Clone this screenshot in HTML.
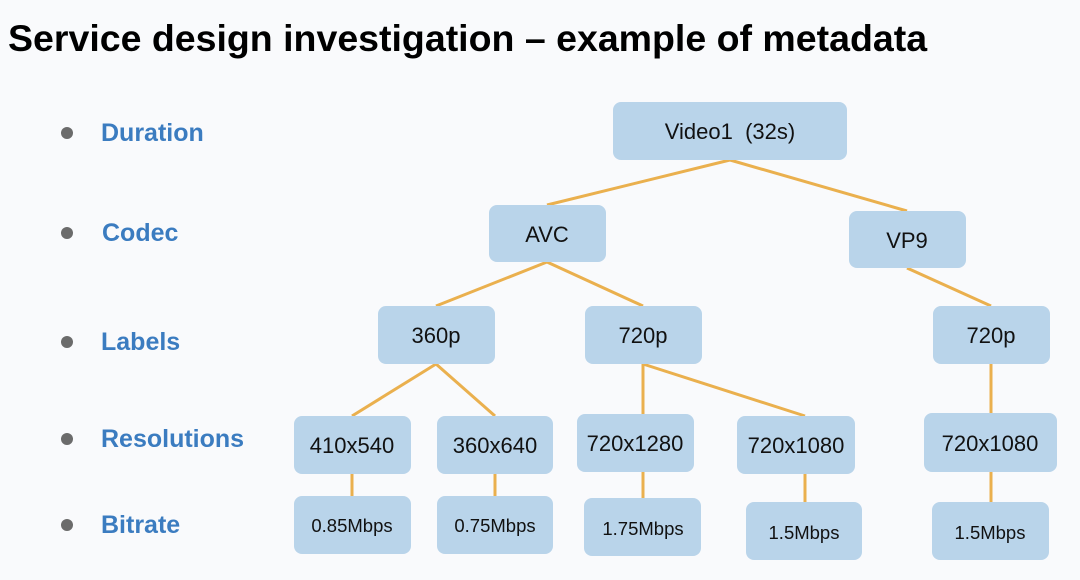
<!DOCTYPE html>
<html><head><style>
html,body{margin:0;padding:0;background:#f9fafc;}
body{width:1080px;height:575px;overflow:hidden;font-family:"Liberation Sans",sans-serif;}
</style></head><body>
<svg width="1080" height="575" viewBox="0 0 1080 575" xmlns="http://www.w3.org/2000/svg" font-family="Liberation Sans, sans-serif">
<rect width="1080" height="575" fill="#f9fafc"/>
<text x="8" y="51" font-size="37.5" font-weight="bold" fill="#000">Service design investigation – example of metadata</text>
<g fill="#6b6b6b">
<circle cx="67" cy="133" r="6"/><circle cx="67" cy="233" r="6"/><circle cx="67" cy="342" r="6"/><circle cx="67" cy="439" r="6"/><circle cx="67" cy="525" r="6"/>
</g>
<g fill="#3b7cc0" font-size="25" font-weight="bold">
<text x="101" y="141">Duration</text>
<text x="102" y="241">Codec</text>
<text x="101" y="350">Labels</text>
<text x="101" y="447">Resolutions</text>
<text x="101" y="533">Bitrate</text>
</g>
<g stroke="#eab04e" stroke-width="3" fill="none">
<line x1="730" y1="160" x2="547" y2="205"/>
<line x1="730" y1="160" x2="907" y2="211"/>
<line x1="547" y1="262" x2="436" y2="306"/>
<line x1="547" y1="262" x2="643" y2="306"/>
<line x1="907" y1="268" x2="991" y2="306"/>
<line x1="436" y1="364" x2="352" y2="416"/>
<line x1="436" y1="364" x2="495" y2="416"/>
<line x1="643" y1="364" x2="643" y2="414"/>
<line x1="643" y1="364" x2="805" y2="416"/>
<line x1="991" y1="364" x2="991" y2="413"/>
<line x1="352" y1="474" x2="352" y2="496"/>
<line x1="495" y1="474" x2="495" y2="496"/>
<line x1="643" y1="472" x2="643" y2="498"/>
<line x1="805" y1="474" x2="805" y2="502"/>
<line x1="991" y1="472" x2="991" y2="502"/>
</g>
<g fill="#b9d4ea">
<rect x="613" y="102" width="234" height="58" rx="8"/>
<rect x="489" y="205" width="117" height="57" rx="8"/>
<rect x="849" y="211" width="117" height="57" rx="8"/>
<rect x="378" y="306" width="117" height="58" rx="8"/>
<rect x="585" y="306" width="117" height="58" rx="8"/>
<rect x="933" y="306" width="117" height="58" rx="8"/>
<rect x="294" y="416" width="117" height="58" rx="8"/>
<rect x="437" y="416" width="116" height="58" rx="8"/>
<rect x="577" y="414" width="117" height="58" rx="8"/>
<rect x="737" y="416" width="118" height="58" rx="8"/>
<rect x="924" y="413" width="133" height="59" rx="8"/>
<rect x="294" y="496" width="117" height="58" rx="8"/>
<rect x="437" y="496" width="116" height="58" rx="8"/>
<rect x="584" y="498" width="117" height="58" rx="8"/>
<rect x="746" y="502" width="116" height="58" rx="8"/>
<rect x="932" y="502" width="117" height="58" rx="8"/>
</g>
<g fill="#111" font-size="22" text-anchor="middle">
<text x="730" y="139" xml:space="preserve">Video1  (32s)</text>
<text x="547" y="242">AVC</text>
<text x="907" y="248">VP9</text>
<text x="436" y="343">360p</text>
<text x="643" y="343">720p</text>
<text x="991" y="343">720p</text>
<text x="352" y="453">410x540</text>
<text x="495" y="453">360x640</text>
<text x="635" y="451">720x1280</text>
<text x="796" y="453">720x1080</text>
<text x="990" y="451">720x1080</text>
</g>
<g fill="#111" font-size="18.5" text-anchor="middle">
<text x="352" y="532">0.85Mbps</text>
<text x="495" y="532">0.75Mbps</text>
<text x="643" y="535">1.75Mbps</text>
<text x="804" y="539">1.5Mbps</text>
<text x="990" y="539">1.5Mbps</text>
</g>
</svg>
</body></html>
